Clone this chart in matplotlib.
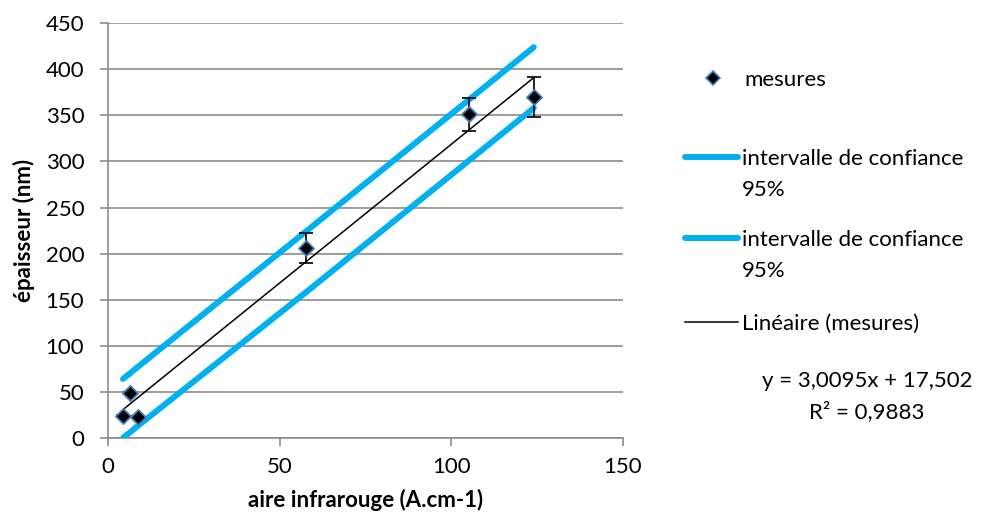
import matplotlib.pyplot as plt
from matplotlib.lines import Line2D

plt.rcParams['font.family'] = ['Lato', 'DejaVu Sans']

# measurements
aire = [4.4, 6.4, 8.7, 57.7, 105.2, 124.1]
epaisseur = [24, 49, 23, 206, 351, 370]
erreur = [1, 1, 1, 16, 18, 22]

# 95% confidence bounds, at the same x values
ic_haut = [64, 70, 77, 224, 367, 424]
ic_bas = [0, 6, 13, 158, 301, 358]

# linear trendline (from the chart label)
pente = 3.0095
ordonnee = 17.502
r2 = 0.9883

bleu = '#00b0f0'
grille = '#8c8c8c'
fs = 16

fig = plt.figure(figsize=(9.9, 5.27), dpi=100)
ax = fig.add_axes([0.109, 0.169, 0.520, 0.787])

ax.plot(aire, ic_haut, color=bleu, lw=4.3, solid_capstyle='round', zorder=3)
ax.plot(aire, ic_bas, color=bleu, lw=4.3, solid_capstyle='round', zorder=3)

fit_x = [aire[0], aire[-1]]
fit_y = [pente * v + ordonnee for v in fit_x]
ax.plot(fit_x, fit_y, color='black', lw=1.1, zorder=4)

ax.errorbar(aire, epaisseur, yerr=erreur, fmt='none', ecolor='black',
            elinewidth=1.2, capsize=5, capthick=1.2, zorder=5)
ax.scatter(aire, epaisseur, marker='D', s=60, facecolor='black',
           edgecolor='#4a7ebb', linewidth=1.3, zorder=6)

ax.set_xlim(0, 150)
ax.set_ylim(0, 450)
ax.set_xticks([0, 50, 100, 150])
ax.set_yticks(range(0, 451, 50))
ax.yaxis.grid(True, color=grille, lw=1.2)
ax.set_axisbelow(True)
for s in ['top', 'right']:
    ax.spines[s].set_visible(False)
for s in ['left', 'bottom']:
    ax.spines[s].set_color(grille)
    ax.spines[s].set_linewidth(1.2)
ax.tick_params(axis='both', colors=grille, labelcolor='black', labelsize=fs,
               length=6, width=1.2)
ax.tick_params(axis='y', pad=11)
ax.tick_params(axis='x', pad=8)

ax.set_xlabel('aire infrarouge (A.cm-1)', fontsize=fs, fontweight='bold', labelpad=8)
ax.set_ylabel('épaisseur (nm)', fontsize=fs, fontweight='bold', labelpad=8)

# legend drawn by hand to match the two-line labels
W, H = 990, 527


def fx(px):
    return px / W


def fy(py):
    return 1 - py / H


fig.add_artist(Line2D([fx(713)], [fy(78)], marker='D', markersize=7,
                      markerfacecolor='black', markeredgecolor='#4a7ebb',
                      markeredgewidth=1.2, linestyle='none'))
fig.text(fx(744), fy(80), 'mesures', fontsize=fs, va='center')

for yy in [157, 238]:
    fig.add_artist(Line2D([fx(685), fx(738)], [fy(yy), fy(yy)], color=bleu,
                          lw=4.3, solid_capstyle='round'))
    fig.text(fx(742), fy(yy + 2), 'intervalle de confiance', fontsize=fs, va='center')
    fig.text(fx(742), fy(yy + 33), '95%', fontsize=fs, va='center')

fig.add_artist(Line2D([fx(685), fx(738)], [fy(322), fy(322)], color='black', lw=1.1))
fig.text(fx(742), fy(324), 'Linéaire (mesures)', fontsize=fs, va='center')

eq = 'y = {:.4f}x + {:.3f}'.format(pente, ordonnee).replace('.', ',')
fig.text(fx(867), fy(381), eq, fontsize=fs, va='center', ha='center')
fig.text(fx(867), fy(412), 'R² = ' + '{:.4f}'.format(r2).replace('.', ','),
         fontsize=fs, va='center', ha='center')

fig.savefig('out.png', dpi=100)
